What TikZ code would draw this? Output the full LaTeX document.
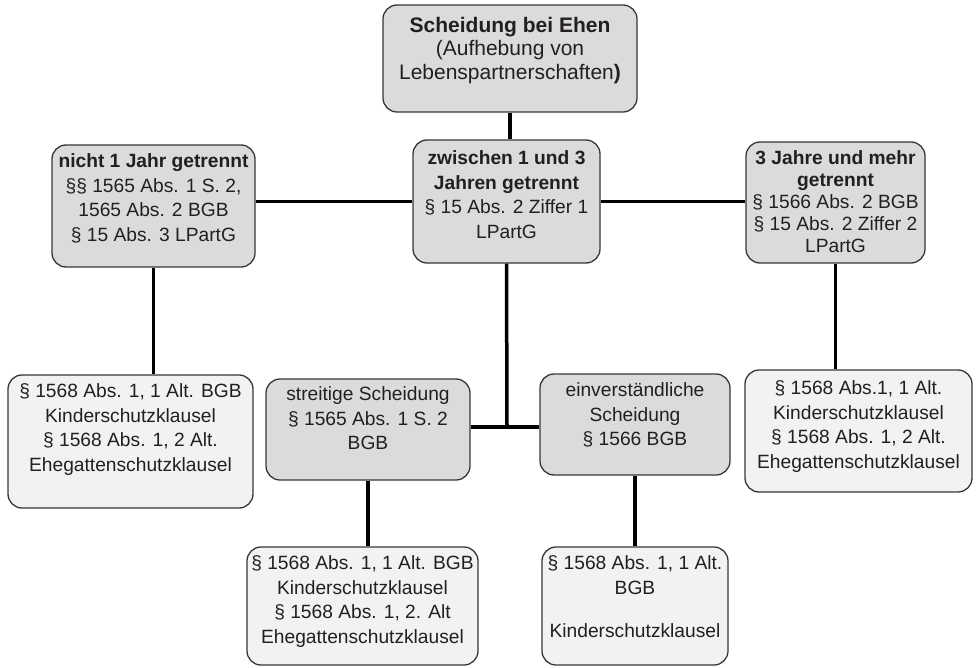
\documentclass[tikz,border=0pt]{standalone}
\usepackage{fontspec}
\setmainfont{Liberation Sans}
\usetikzlibrary{calc}
\definecolor{boxgray}{RGB}{218,219,221}
\definecolor{boxpale}{RGB}{241,242,244}
\definecolor{rim}{RGB}{55,55,55}
\definecolor{ink}{RGB}{35,31,32}
\newcommand{\boxtext}[4][9]{\begin{minipage}[t][#3pt][t]{#2pt}\centering\vspace*{#1pt}#4\end{minipage}}

\begin{document}
\begin{tikzpicture}[x=1pt,y=-1pt,font=\fontsize{19.2}{24.5}\selectfont,
	box/.style={draw=rim,line width=1.3pt,rounded corners=14pt,inner sep=0pt,text=ink},
	greybox/.style={box,fill=boxgray},
	palebox/.style={box,fill=boxpale},
	link/.style={line width=3.5pt,black}]
	\useasboundingbox (0,0) rectangle (976,668);

	\node[greybox] (ehe) at (510,58.5) {\boxtext[12]{254}{107}{\fontsize{21}{23.5}\selectfont\textbf{Scheidung bei Ehen}\\(Aufhebung von\\Lebenspartnerschaften\textbf{)}}};
	\node[greybox] (nicht) at (153.5,206) {\boxtext{203}{122}{\textbf{nicht 1 Jahr getrennt}\\§§ 1565 Abs. 1 S. 2,\\1565 Abs. 2 BGB\\§ 15 Abs. 3 LPartG}};
	\node[greybox] (zwischen) at (506.5,201.5) {\boxtext[11]{187}{123}{\textbf{zwischen 1 und 3}\\\textbf{Jahren getrennt}\\§ 15 Abs. 2 Ziffer 1\\LPartG}};
	\node[greybox] (mehr) at (835.5,202.5) {\boxtext{179}{121}{\fontsize{19.2}{22}\selectfont\textbf{3 Jahre und mehr}\\\textbf{getrennt}\\§ 1566 Abs. 2 BGB\\§ 15 Abs. 2 Ziffer 2\\LPartG}};

	\node[palebox] (kindL) at (130.5,441.5) {\boxtext{245}{133}{§ 1568 Abs. 1, 1 Alt. BGB\\Kinderschutzklausel\\§ 1568 Abs. 1, 2 Alt.\\Ehegattenschutzklausel}};
	\node[greybox] (streit) at (368,429.5) {\boxtext[8]{204}{101}{streitige Scheidung\\§ 1565 Abs. 1 S. 2\\BGB}};
	\node[greybox] (einv) at (635,424.5) {\boxtext{190}{101}{einverständliche\\Scheidung\\§ 1566 BGB}};
	\node[palebox] (kindR) at (858.5,431) {\boxtext[11]{227}{122}{§ 1568 Abs.1, 1 Alt.\\Kinderschutzklausel\\§ 1568 Abs. 1, 2 Alt.\\Ehegattenschutzklausel}};

	\node[palebox] (kindS) at (362.5,606) {\boxtext{231}{118}{§ 1568 Abs. 1, 1 Alt. BGB\\Kinderschutzklausel\\§ 1568 Abs. 1, 2. Alt\\Ehegattenschutzklausel}};
	\node[palebox] (kindE) at (635,606) {\boxtext{186}{118}{§ 1568 Abs. 1, 1 Alt.\\BGB\\[18.5pt]Kinderschutzklausel}};

	\coordinate (fork) at (507,427);
	\draw[link] (ehe.south) -- (ehe.south |- zwischen.north);
	\draw[link] (nicht.east |- zwischen.west) -- (zwischen.west);
	\draw[link] (zwischen.east) -- (zwischen.east -| mehr.west);
	\draw[link] (nicht.south) -- (nicht.south |- kindL.north);
	\draw[link] (mehr.south) -- (mehr.south |- kindR.north);
	\draw[link] (zwischen.south) -- (fork);
	\draw[link] (streit.east |- fork) -- (einv.west |- fork);
	\draw[link] (streit.south) -- (streit.south |- kindS.north);
	\draw[link] (einv.south) -- (einv.south |- kindE.north);
\end{tikzpicture}
\end{document}
